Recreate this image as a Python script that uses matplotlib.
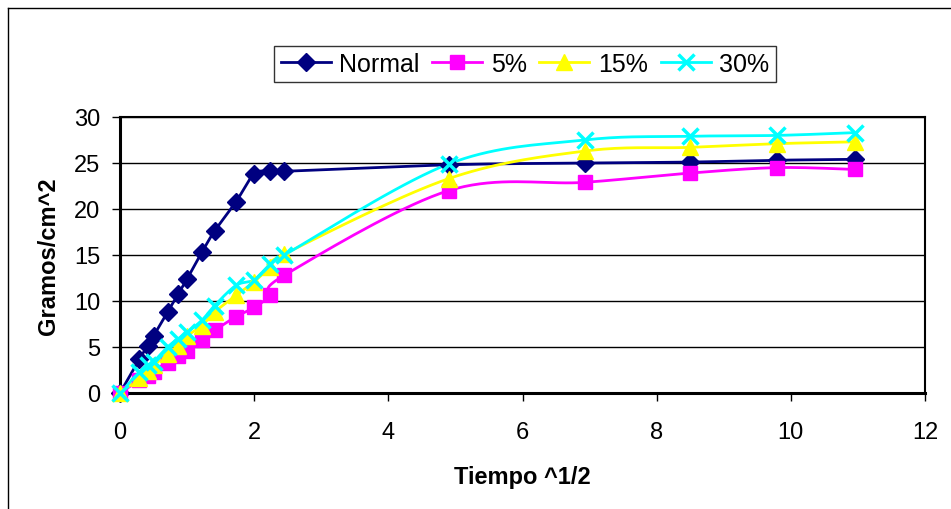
import matplotlib
matplotlib.use('Agg')
import matplotlib.pyplot as plt
import numpy as np

plt.rcParams['font.family'] = ['Liberation Sans', 'DejaVu Sans']

# raiz del tiempo (h^1/2)
tiempo = [0, 0.29, 0.41, 0.5, 0.71, 0.87, 1.0, 1.22, 1.41, 1.73, 2.0, 2.24, 2.45,
          4.9, 6.93, 8.49, 9.8, 10.95]

normal = [0, 3.7, 5.1, 6.2, 8.8, 10.8, 12.4, 15.3, 17.6, 20.8, 23.8, 24.1, 24.1,
          24.8, 25.0, 25.1, 25.3, 25.4]
p5 = [0, 1.4, 1.9, 2.3, 3.3, 4.0, 4.6, 5.8, 6.8, 8.3, 9.3, 10.6, 12.8,
      22.0, 22.9, 23.9, 24.5, 24.3]
p15 = [0, 1.6, 2.4, 3.0, 4.2, 5.1, 6.2, 7.3, 8.8, 10.6, 12.1, 13.7, 15.1,
       23.3, 26.3, 26.7, 27.1, 27.3]
p30 = [0, 2.3, 3.0, 3.4, 5.0, 5.9, 6.6, 7.9, 9.5, 11.7, 12.3, 14.0, 15.0,
       24.9, 27.5, 27.9, 28.0, 28.3]

series = [
    ("Normal", normal, '#000080', 'D', 9),
    ("5%", p5, '#FF00FF', 's', 10),
    ("15%", p15, '#FFFF00', '^', 11),
    ("30%", p30, '#00FFFF', 'x', 11),
]


def suave(x, y, n=20):
    # linea suavizada tipo Excel (Catmull-Rom en escala de pantalla)
    sx, sy = 67.1, 9.2
    P = np.column_stack([np.array(x) * sx, np.array(y) * sy])
    P = np.vstack([P[0], P, P[-1]])
    out = []
    for i in range(1, len(P) - 2):
        p0, p1, p2, p3 = P[i - 1], P[i], P[i + 1], P[i + 2]
        t = np.linspace(0, 1, n)[:, None]
        seg = 0.5 * ((2 * p1) + (-p0 + p2) * t + (2 * p0 - 5 * p1 + 4 * p2 - p3) * t ** 2
                     + (-p0 + 3 * p1 - 3 * p2 + p3) * t ** 3)
        out.append(seg)
    out = np.vstack(out)
    return out[:, 0] / sx, out[:, 1] / sy


fig = plt.figure(figsize=(9.51, 5.10), dpi=100)
ax = fig.add_axes([120 / 951, 1 - 394 / 510, 805 / 951, 276 / 510])

# marco exterior del grafico
fig.add_artist(plt.Line2D([8 / 951, 8 / 951], [0, 1 - 9 / 510], color='black', lw=1))
fig.add_artist(plt.Line2D([8 / 951, 1], [1 - 9 / 510, 1 - 9 / 510], color='black', lw=1))

for nombre, y, color, mk, ms in series:
    xs, ys = suave(tiempo, y)
    ax.plot(xs, ys, color=color, lw=2, zorder=3)
    ax.plot(tiempo, y, linestyle='none', marker=mk, color=color, markersize=ms,
            markeredgewidth=2.5 if mk == 'x' else 1, zorder=4, clip_on=False)
    ax.plot([], [], color=color, lw=2, marker=mk, markersize=ms,
            markeredgewidth=2.5 if mk == 'x' else 1, label=nombre)

ax.set_xlim(0, 12)
ax.set_ylim(0, 30)
ax.set_xticks(range(0, 13, 2))
ax.set_yticks(range(0, 31, 5))
ax.yaxis.grid(True, color='black', lw=1)
ax.set_axisbelow(True)
ax.tick_params(labelsize=17, length=6, width=1, direction='out')
ax.tick_params(axis='x', pad=14)
ax.tick_params(axis='y', pad=8)
for s in ['left', 'bottom']:
    ax.spines[s].set_linewidth(2.2)
for s in ['top', 'right']:
    ax.spines[s].set_linewidth(1.5)

ax.set_xlabel('Tiempo ^1/2', fontsize=17, fontweight='bold', labelpad=16)
ax.set_ylabel('Gramos/cm^2', fontsize=17, fontweight='bold', labelpad=10)

leg = fig.legend(loc='center', bbox_to_anchor=(525 / 951, 1 - 65 / 510), ncol=4, fontsize=18,
                 frameon=True, fancybox=False, edgecolor='black', handlelength=2.0,
                 handletextpad=0.35, columnspacing=0.5, borderpad=0.25, borderaxespad=0)
leg.get_frame().set_linewidth(1)

fig.savefig('out.png', dpi=100)
